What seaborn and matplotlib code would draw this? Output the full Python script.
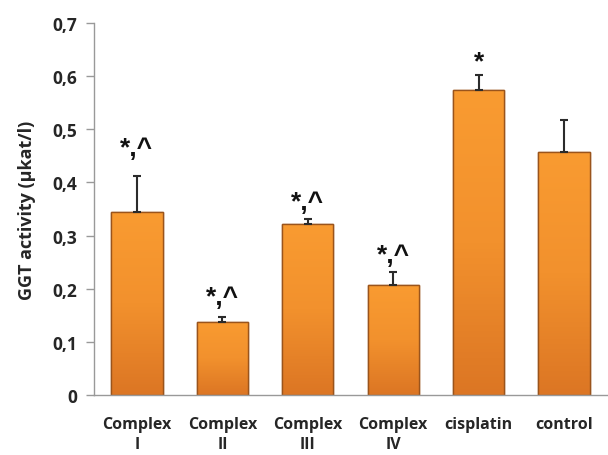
import matplotlib
matplotlib.use('Agg')
import matplotlib.pyplot as plt
from matplotlib.colors import LinearSegmentedColormap
import numpy as np
import pandas as pd
import seaborn as sns

groups = ['Complex\nI', 'Complex\nII', 'Complex\nIII', 'Complex\nIV', 'cisplatin', 'control']
activity = [0.344, 0.138, 0.321, 0.207, 0.574, 0.458]
sd = [0.069, 0.008, 0.010, 0.025, 0.028, 0.060]
marks = ['*,^', '*,^', '*,^', '*,^', '*', '']
mark_gap = [0.030, 0.016, 0.010, 0.008, 0.004, 0.0]

df = pd.DataFrame({'group': groups, 'activity': activity})

sns.set_style('white')
plt.rcParams['font.family'] = ['Open Sans', 'DejaVu Sans']
plt.rcParams['font.weight'] = 'bold'

fig = plt.figure(figsize=(6.08, 4.56), dpi=100)
ax = fig.add_axes([0.155, 0.132, 0.843, 0.815])

sns.barplot(data=df, x='group', y='activity', color='#F39130', width=0.6,
            edgecolor='#9A541C', linewidth=1.0, saturation=1, ax=ax)

# soft vertical orange gradient inside each bar
grad = LinearSegmentedColormap.from_list('orng', ['#DC7624', '#F2912D', '#F99B31'])
for bar in ax.patches:
    x0, w, h = bar.get_x(), bar.get_width(), bar.get_height()
    im = ax.imshow(np.linspace(0, 1, 100).reshape(-1, 1), cmap=grad, aspect='auto',
                   extent=[x0, x0 + w, 0, h], origin='lower', zorder=bar.get_zorder() + 0.1)
    im.set_clip_path(bar)
    ax.add_patch(plt.Rectangle((x0, 0), w, h, fill=False, edgecolor='#9A541C',
                               linewidth=1.0, zorder=bar.get_zorder() + 0.2))

x = np.arange(len(groups))
ax.errorbar(x, activity, yerr=[np.zeros(len(sd)), sd], fmt='none',
            ecolor='#2b2b2b', elinewidth=1.5, capsize=2.6, capthick=1.5, zorder=3)

for xi, top, m, g in zip(x, np.array(activity) + np.array(sd), marks, mark_gap):
    if m:
        ax.text(xi, top + g, m, ha='center', va='bottom',
                fontsize=19, fontweight='bold', color='#111111',
                family=['Liberation Sans', 'DejaVu Sans'])

ax.set_ylim(0, 0.7)
ax.set_xlim(-0.5, 5.5)
ax.set_yticks(np.arange(0, 0.71, 0.1))
ax.set_yticklabels(['0'] + [f'{v:.1f}'.replace('.', ',') for v in np.arange(0.1, 0.71, 0.1)],
                   fontsize=12.5, fontweight='bold')
ax.set_xticks(x)
ax.set_xticklabels(groups, fontsize=11.5, fontweight='bold', linespacing=1.35)
ax.set_xticks(np.arange(0.5, 5.5, 1), minor=True)
ax.tick_params(axis='x', which='major', length=0, pad=15)
ax.tick_params(axis='x', which='minor', length=5, color='#999999', width=1)
ax.tick_params(axis='y', length=6, color='#999999', width=1, pad=6, left=True)
ax.set_xlabel('')
ax.set_ylabel('GGT activity (µkat/l)', fontsize=13, fontweight='bold', labelpad=12)

for s in ['top', 'right']:
    ax.spines[s].set_visible(False)
for s in ['left', 'bottom']:
    ax.spines[s].set_color('#999999')
    ax.spines[s].set_linewidth(1.0)

fig.savefig('out.png', dpi=100)
